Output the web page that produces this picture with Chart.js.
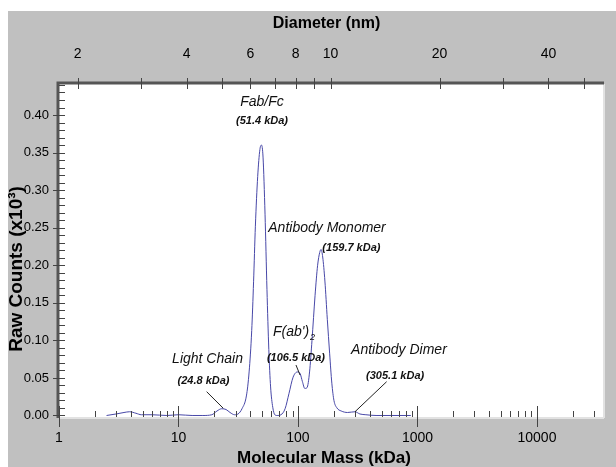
<!DOCTYPE html>
<html>
<head>
<meta charset="utf-8">
<script src="https://cdn.jsdelivr.net/npm/chart.js@4"></script>
<style>
  html, body { margin: 0; padding: 0; background: #fff; }
</style>
</head>
<body>
<canvas id="grafico" width="616" height="467"></canvas>
<script>
// curva: masa molecular (kDa) vs cuentas (x10^3)
const masaKDa = [2.5, 3.0, 3.5, 3.9, 4.4, 4.9, 6, 8, 10, 13, 16, 19, 21, 23, 25, 27, 29.5, 31.5, 34, 37,
  39, 41, 42.5, 44, 46, 48, 49.5, 51, 53, 55, 57, 59, 61.5, 64, 67, 72, 78, 84, 91, 99,
  104, 109, 114, 119, 125, 131, 139, 146, 152, 156, 161, 168, 176, 184, 192, 200, 212, 230, 260, 300,
  330, 370, 450, 600, 880];
const cuentas = [0.000, 0.002, 0.004, 0.005, 0.003, 0.001, 0.001, 0.000, 0.001, 0.000, 0.000, 0.001, 0.006, 0.009, 0.008, 0.004, 0.001, 0.002, 0.009, 0.026,
  0.058, 0.113, 0.178, 0.252, 0.318, 0.354, 0.360, 0.344, 0.268, 0.168, 0.088, 0.038, 0.011, 0.001, 0.000, 0.001, 0.009, 0.029, 0.051, 0.058,
  0.056, 0.045, 0.036, 0.037, 0.058, 0.100, 0.160, 0.200, 0.217, 0.221, 0.211, 0.179, 0.128, 0.083, 0.043, 0.020, 0.010, 0.006, 0.004, 0.005,
  0.002, 0.001, 0.000, 0.000, 0.000];

// eje inferior (masa)
const masaMin = 1, masaMax = 35700;
const masaEtiquetas = [1, 10, 100, 1000, 10000];
const masaMenores = [1, 2, 3, 4, 5, 6, 7, 8, 9];
// eje superior (diametro)
const diamMin = 1.776, diamMax = 56.6;
const diamEtiquetas = [2, 4, 6, 8, 10, 20, 40];
const diamMenores = [3, 5, 7, 9, 30, 50];
// eje izquierdo
const yMin = -0.002, yMax = 0.4413;
const yEtiquetas = [0, 0.05, 0.10, 0.15, 0.20, 0.25, 0.30, 0.35, 0.40];
const yPasoMenor = 0.01;

// anotaciones (posicion en unidades del grafico)
const nombres = ['Fab/Fc', 'Antibody Monomer', "F(ab')", 'Light Chain', 'Antibody Dimer'];
const nombresMasa = [50, 175, 92.6, 17.5, 700];
const nombresCuenta = [0.417, 0.249, 0.111, 0.0752, 0.0872];
const pesos = ['(51.4 kDa)', '(159.7 kDa)', '(106.5 kDa)', '(24.8 kDa)', '(305.1 kDa)'];
const pesosMasa = [50, 280, 96.2, 16.2, 650];
const pesosCuenta = [0.392, 0.223, 0.0765, 0.0458, 0.0525];
const lineasDesde = [[17.2, 0.0317], [96.2, 0.0672], [552, 0.045]];
const lineasHasta = [[23.7, 0.0096], [104, 0.0539], [300, 0.005]];

const fuente = "'Liberation Sans', Arial, sans-serif";

const fondo = {
  id: 'fondo',
  beforeDraw(chart) {
    const c = chart.ctx, a = chart.chartArea;
    c.save();
    c.fillStyle = '#c0c0c0';
    c.fillRect(8, 11, chart.width - 8, chart.height - 11);
    c.fillStyle = '#ffffff';
    c.fillRect(a.left, a.top, a.right - a.left, a.bottom - a.top);
    c.restore();
  }
};

const marcas = {
  id: 'marcas',
  afterDraw(chart) {
    const c = chart.ctx, a = chart.chartArea;
    const sx = chart.scales.x, sx2 = chart.scales.x2, sy = chart.scales.y;
    c.save();
    // bordes
    c.strokeStyle = '#e2e2e2';
    c.lineWidth = 2;
    c.beginPath();
    c.moveTo(a.left, a.bottom + 1); c.lineTo(a.right + 1, a.bottom + 1);
    c.moveTo(a.right + 1, a.top); c.lineTo(a.right + 1, a.bottom + 1);
    c.stroke();
    c.strokeStyle = '#555555';
    c.lineWidth = 3;
    c.beginPath();
    c.moveTo(a.left - 1, a.bottom + 1); c.lineTo(a.left - 1, a.top - 1); c.lineTo(a.right + 1, a.top - 1);
    c.stroke();

    c.strokeStyle = '#444444';
    c.lineWidth = 1;
    c.beginPath();
    sy.ticks.forEach(t => {
      const p = Math.round(sy.getPixelForValue(t.value)) + 0.5;
      const mayor = yEtiquetas.some(v => Math.abs(v - t.value) < 1e-6);
      c.moveTo(mayor ? a.left - 6 : a.left, p);
      c.lineTo(a.left + 6, p);
    });
    sx.ticks.forEach(t => {
      const p = Math.round(sx.getPixelForValue(t.value)) + 0.5;
      const mayor = masaEtiquetas.includes(t.value);
      c.moveTo(p, mayor ? a.bottom - 11 : a.bottom - 6);
      c.lineTo(p, mayor ? a.bottom + 10 : a.bottom);
    });
    sx2.ticks.forEach(t => {
      const p = Math.round(sx2.getPixelForValue(t.value)) + 0.5;
      c.moveTo(p, a.top - 6);
      c.lineTo(p, a.top + 5);
    });
    c.stroke();

    // anotaciones
    c.fillStyle = '#111111';
    c.textAlign = 'center';
    c.textBaseline = 'middle';
    nombres.forEach((txt, i) => {
      const px = sx.getPixelForValue(nombresMasa[i]);
      const py = sy.getPixelForValue(nombresCuenta[i]);
      c.font = 'italic 14px ' + fuente;
      if (txt === "F(ab')") {
        const w = c.measureText(txt).width;
        c.textAlign = 'left';
        c.fillText(txt, px - w / 2 - 3, py);
        c.font = 'italic 9px ' + fuente;
        c.fillText('2', px + w / 2 - 2, py + 5);
        c.textAlign = 'center';
      } else {
        c.fillText(txt, px, py);
      }
    });
    c.font = 'italic bold 11px ' + fuente;
    pesos.forEach((txt, i) => {
      c.fillText(txt, sx.getPixelForValue(pesosMasa[i]), sy.getPixelForValue(pesosCuenta[i]));
    });
    c.strokeStyle = '#222222';
    c.beginPath();
    lineasDesde.forEach((d, i) => {
      const h = lineasHasta[i];
      c.moveTo(sx.getPixelForValue(d[0]), sy.getPixelForValue(d[1]));
      c.lineTo(sx.getPixelForValue(h[0]), sy.getPixelForValue(h[1]));
    });
    c.stroke();
    c.restore();
  }
};

const ctx = document.getElementById('grafico');
new Chart(ctx, {
  type: 'line',
  data: {
    datasets: [{
      data: masaKDa.map((m, i) => ({ x: m, y: cuentas[i] })),
      borderColor: '#4848a8',
      borderWidth: 1,
      pointRadius: 0,
      fill: false,
      cubicInterpolationMode: 'monotone'
    }]
  },
  options: {
    responsive: false,
    animation: false,
    layout: { padding: { right: 13, left: 0, top: 0, bottom: 0 } },
    plugins: { legend: { display: false }, tooltip: { enabled: false } },
    scales: {
      x: {
        type: 'logarithmic',
        position: 'bottom',
        min: masaMin,
        max: masaMax,
        afterBuildTicks: s => {
          const t = [];
          masaEtiquetas.forEach(d => masaMenores.forEach(k => {
            if (d * k <= masaMax) t.push({ value: d * k });
          }));
          s.ticks = t;
        },
        afterFit: s => { s.height = 50; },
        grid: { display: false, drawTicks: false },
        border: { display: false },
        ticks: {
          autoSkip: false, maxRotation: 0, padding: 13,
          color: '#000', font: { family: fuente, size: 14 },
          callback: v => masaEtiquetas.includes(v) ? String(v) : ''
        },
        title: {
          display: true, text: 'Molecular Mass (kDa)   ', color: '#000',
          font: { family: fuente, size: 17, weight: 'bold', lineHeight: 1 },
          padding: { top: 0, bottom: 0 }
        }
      },
      x2: {
        type: 'logarithmic',
        position: 'top',
        min: diamMin,
        max: diamMax,
        afterBuildTicks: s => {
          s.ticks = diamEtiquetas.concat(diamMenores).sort((a, b) => a - b).map(v => ({ value: v }));
        },
        afterFit: s => { s.height = 84; },
        grid: { display: false, drawTicks: false },
        border: { display: false },
        ticks: {
          autoSkip: false, maxRotation: 0, padding: 21,
          color: '#000', font: { family: fuente, size: 14 },
          callback: v => diamEtiquetas.includes(v) ? String(v) : ''
        },
        title: {
          display: true, text: 'Diameter (nm)  ', color: '#000',
          font: { family: fuente, size: 16, weight: 'bold', lineHeight: 1 },
          padding: { top: 16, bottom: 0 }
        }
      },
      y: {
        min: yMin,
        max: yMax,
        afterBuildTicks: s => {
          const t = [];
          for (let v = 0; v <= yMax + 1e-9; v += yPasoMenor) t.push({ value: Math.round(v * 100) / 100 });
          s.ticks = t;
        },
        afterFit: s => { s.width = 59; },
        grid: { display: false, drawTicks: false },
        border: { display: false },
        ticks: {
          autoSkip: false, padding: 10,
          color: '#000', font: { family: fuente, size: 13 },
          callback: v => {
            const e = yEtiquetas.find(x => Math.abs(x - v) < 1e-6);
            return e === undefined ? '' : e.toFixed(2);
          }
        },
        title: {
          display: true, text: 'Raw Counts (x10³)       ', color: '#000',
          font: { family: fuente, size: 19, weight: 'bold', lineHeight: 1 },
          padding: { top: 7.5, bottom: 0 }
        }
      }
    }
  },
  plugins: [fondo, marcas]
});
</script>
</body>
</html>
